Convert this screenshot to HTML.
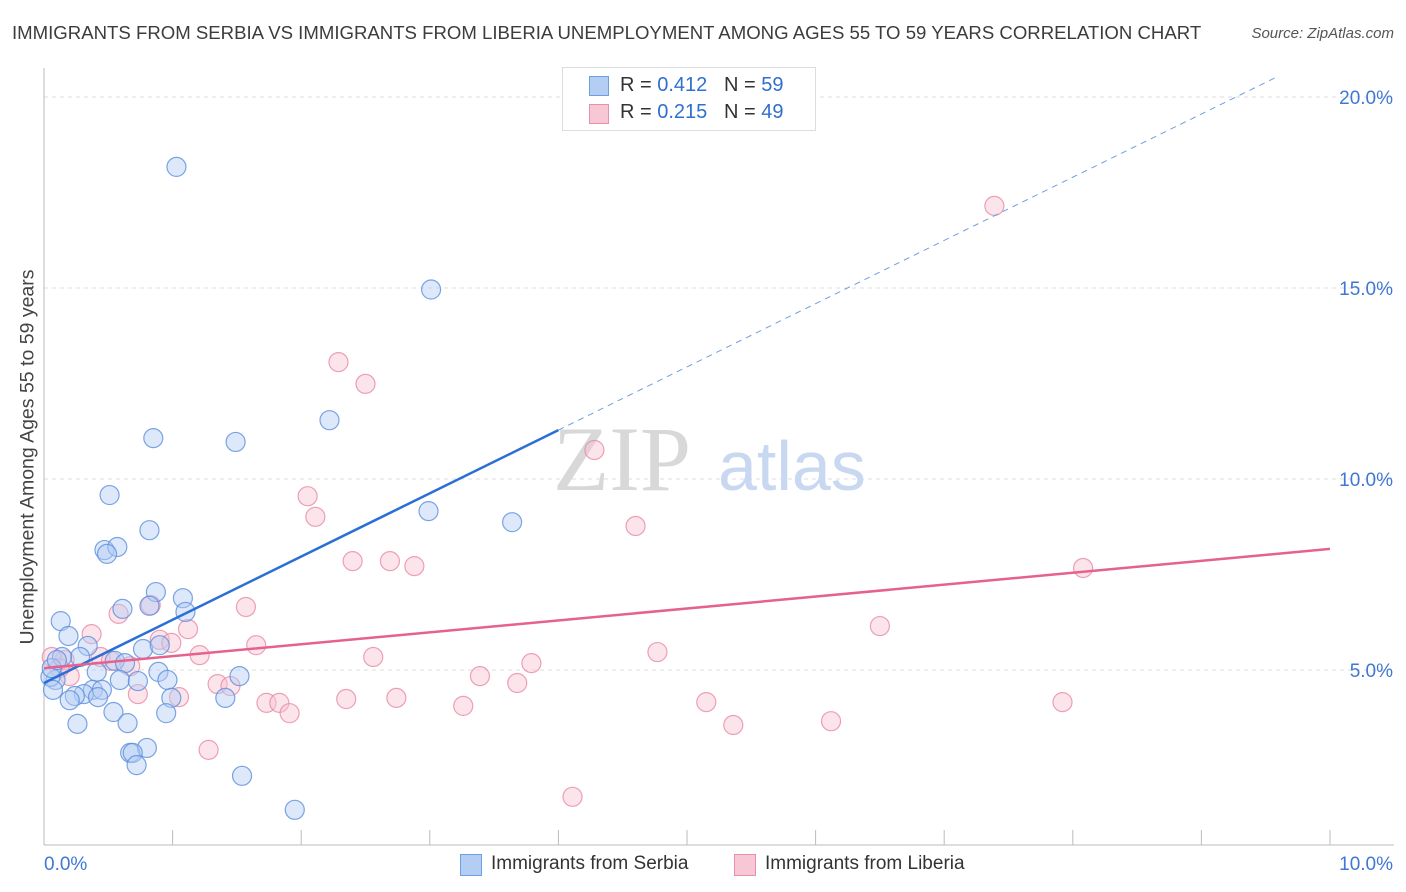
<!DOCTYPE html>
<html><head><meta charset="utf-8"><style>
body{margin:0;background:#fff;font-family:"Liberation Sans",sans-serif;}
#wrap{position:relative;width:1406px;height:892px;overflow:hidden;}
.t{position:absolute;white-space:nowrap;}
</style></head><body>
<div id="wrap">
<div class="t" style="left:12px;top:22px;font-size:18.6px;color:#3c3c3c;">IMMIGRANTS FROM SERBIA VS IMMIGRANTS FROM LIBERIA UNEMPLOYMENT AMONG AGES 55 TO 59 YEARS CORRELATION CHART</div>
<div class="t" style="right:12px;top:25px;font-size:15px;color:#555;font-style:italic;">Source: ZipAtlas.com</div>
<div class="t" style="left:28px;top:457px;font-size:19.5px;color:#444;transform:translate(-50%,-50%) rotate(-90deg);">Unemployment Among Ages 55 to 59 years</div>
<svg id="svg" width="1406" height="892" style="position:absolute;left:0;top:0"></svg>
<div style="position:absolute;left:562px;top:67px;width:252px;height:62px;border:1px solid #ddd;background:#fff;font-size:20px;">
 <div style="position:absolute;left:26px;top:8px;width:18px;height:18px;background:#b4cdf3;border:1px solid #6e9fe0;"></div>
 <div class="t" style="left:57px;top:6px;color:#333;">R = <span style="color:#2f6fd0">0.412</span>&nbsp;&nbsp;&nbsp;N = <span style="color:#2f6fd0">59</span></div>
 <div style="position:absolute;left:26px;top:36px;width:18px;height:18px;background:#f8c7d6;border:1px solid #eb8dab;"></div>
 <div class="t" style="left:57px;top:33px;color:#333;">R = <span style="color:#2f6fd0">0.215</span>&nbsp;&nbsp;&nbsp;N = <span style="color:#2f6fd0">49</span></div>
</div>
<div style="position:absolute;left:460px;top:854px;width:20px;height:20px;background:#b4cdf3;border:1px solid #6e9fe0;"></div>
<div class="t" style="left:491px;top:853px;font-size:19px;color:#333;">Immigrants from Serbia</div>
<div style="position:absolute;left:734px;top:854px;width:20px;height:20px;background:#f8c7d6;border:1px solid #eb8dab;"></div>
<div class="t" style="left:765px;top:853px;font-size:19px;color:#333;">Immigrants from Liberia</div>
</div>
<script>
const xTicks=[0,10];
const yTicks=[5,10,15,20];
const serbiaX=[1.03,3.01,2.22,0.85,1.49,0.51,2.99,3.64,0.82,0.47,0.57,0.49,0.87,1.08,0.61,1.10,0.82,0.13,0.19,0.34,0.77,0.90,0.28,0.55,0.63,0.41,0.89,1.52,0.09,0.05,0.59,0.96,0.73,0.38,0.45,0.31,0.24,0.42,0.20,0.99,1.41,0.07,0.54,0.95,0.65,0.26,0.80,0.67,0.69,0.72,1.54,1.95,0.14,0.06,0.10];
const serbiaY=[18.17,14.96,11.54,11.07,10.97,9.58,9.16,8.87,8.66,8.14,8.22,8.04,7.04,6.88,6.60,6.52,6.68,6.28,5.89,5.63,5.55,5.65,5.34,5.24,5.18,4.95,4.95,4.84,4.74,4.82,4.74,4.74,4.71,4.48,4.48,4.37,4.32,4.29,4.21,4.27,4.27,4.48,3.90,3.87,3.61,3.59,2.96,2.83,2.83,2.51,2.23,1.34,5.34,5.05,5.26];
const liberiaX=[7.39,2.29,2.50,4.28,2.05,2.11,4.60,2.40,2.69,2.88,8.08,0.83,1.57,0.58,6.50,1.12,0.37,0.90,0.99,1.65,4.77,1.21,2.56,0.44,3.79,0.16,0.67,0.52,3.39,0.20,1.35,1.45,3.68,0.73,1.05,2.35,2.74,1.73,1.83,5.15,7.92,3.26,1.91,5.36,6.12,1.28,4.11,0.06,0.12];
const liberiaY=[17.15,13.06,12.49,10.76,9.55,9.01,8.77,7.85,7.85,7.72,7.67,6.70,6.65,6.47,6.15,6.07,5.94,5.79,5.71,5.65,5.47,5.39,5.34,5.34,5.18,5.26,5.10,5.24,4.84,4.84,4.63,4.58,4.66,4.37,4.29,4.24,4.27,4.14,4.14,4.16,4.16,4.06,3.87,3.56,3.66,2.91,1.68,5.34,5.05];
const serbiaTrend=[4.66,11.28,20.5];
const liberiaTrend=[5.05,8.17];
const X=v=>44+v*128.6, Y=v=>861-v*38.2;
const svg=document.getElementById('svg');const NS='http://www.w3.org/2000/svg';
function mk(t,a){const e=document.createElementNS(NS,t);for(const k in a)e.setAttribute(k,a[k]);svg.appendChild(e);return e;}
function txt(s,x,y,a){const e=mk('text',Object.assign({x:x,y:y,'font-family':'Liberation Sans, sans-serif','font-size':19,fill:'#3f78d3'},a));e.textContent=s;return e;}
yTicks.forEach(v=>{
 const l=mk('line',{x1:44,x2:1394,y1:Y(v),y2:Y(v),stroke:'#ddd','stroke-dasharray':'4,4'});
 
 
 const t=txt(v.toFixed(1)+'%',1393,Y(v)+7,{'text-anchor':'end'});
 
 
});
mk('line',{x1:44,x2:44,y1:68,y2:845,stroke:'#bbb'});
mk('line',{x1:44,x2:1394,y1:845,y2:845,stroke:'#bbb'});
for(let i=1;i<=10;i++){mk('line',{x1:X(i),x2:X(i),y1:830,y2:845,stroke:'#bbb'});}
xTicks.forEach(v=>{
 const t=txt(v.toFixed(1)+'%',v==0?44:1393,870,{'text-anchor':v==0?'start':'end'});
 
 
});
const wm=mk('text',{x:553,y:490,'font-family':'Liberation Serif, serif','font-size':92,fill:'#d8d8d8'});wm.textContent='ZIP';
const wm2=mk('text',{x:718,y:490,'font-family':'Liberation Sans, sans-serif','font-size':70,fill:'#c8d8f0'});wm2.textContent='atlas';
function dots(xs,ys,fill,stroke,name){xs.forEach((x,i)=>{
 const c=mk('circle',{cx:X(x),cy:Y(ys[i]),r:9.5,fill:fill,'fill-opacity':0.45,stroke:stroke,'stroke-opacity':0.8,'stroke-width':1.2});
 
 
});}
dots(liberiaX,liberiaY,'#f8c3d3','#e98aa8','liberia-point');
dots(serbiaX,serbiaY,'#b4cdf3','#5b8fdc','serbia-point');
const b1=mk('line',{x1:X(0),y1:Y(serbiaTrend[0]),x2:X(4),y2:Y(serbiaTrend[1]),stroke:'#2a6fd6','stroke-width':2.5});


const slope=(serbiaTrend[1]-serbiaTrend[0])/4, xe=(serbiaTrend[2]-serbiaTrend[0])/slope;
mk('line',{x1:X(4),y1:Y(serbiaTrend[1]),x2:X(xe),y2:Y(serbiaTrend[2]),stroke:'#6e9fe0','stroke-width':1,'stroke-dasharray':'6,5'});
const p1=mk('line',{x1:X(0),y1:Y(liberiaTrend[0]),x2:X(10),y2:Y(liberiaTrend[1]),stroke:'#e4628d','stroke-width':2.5});


</script>
</body></html>
